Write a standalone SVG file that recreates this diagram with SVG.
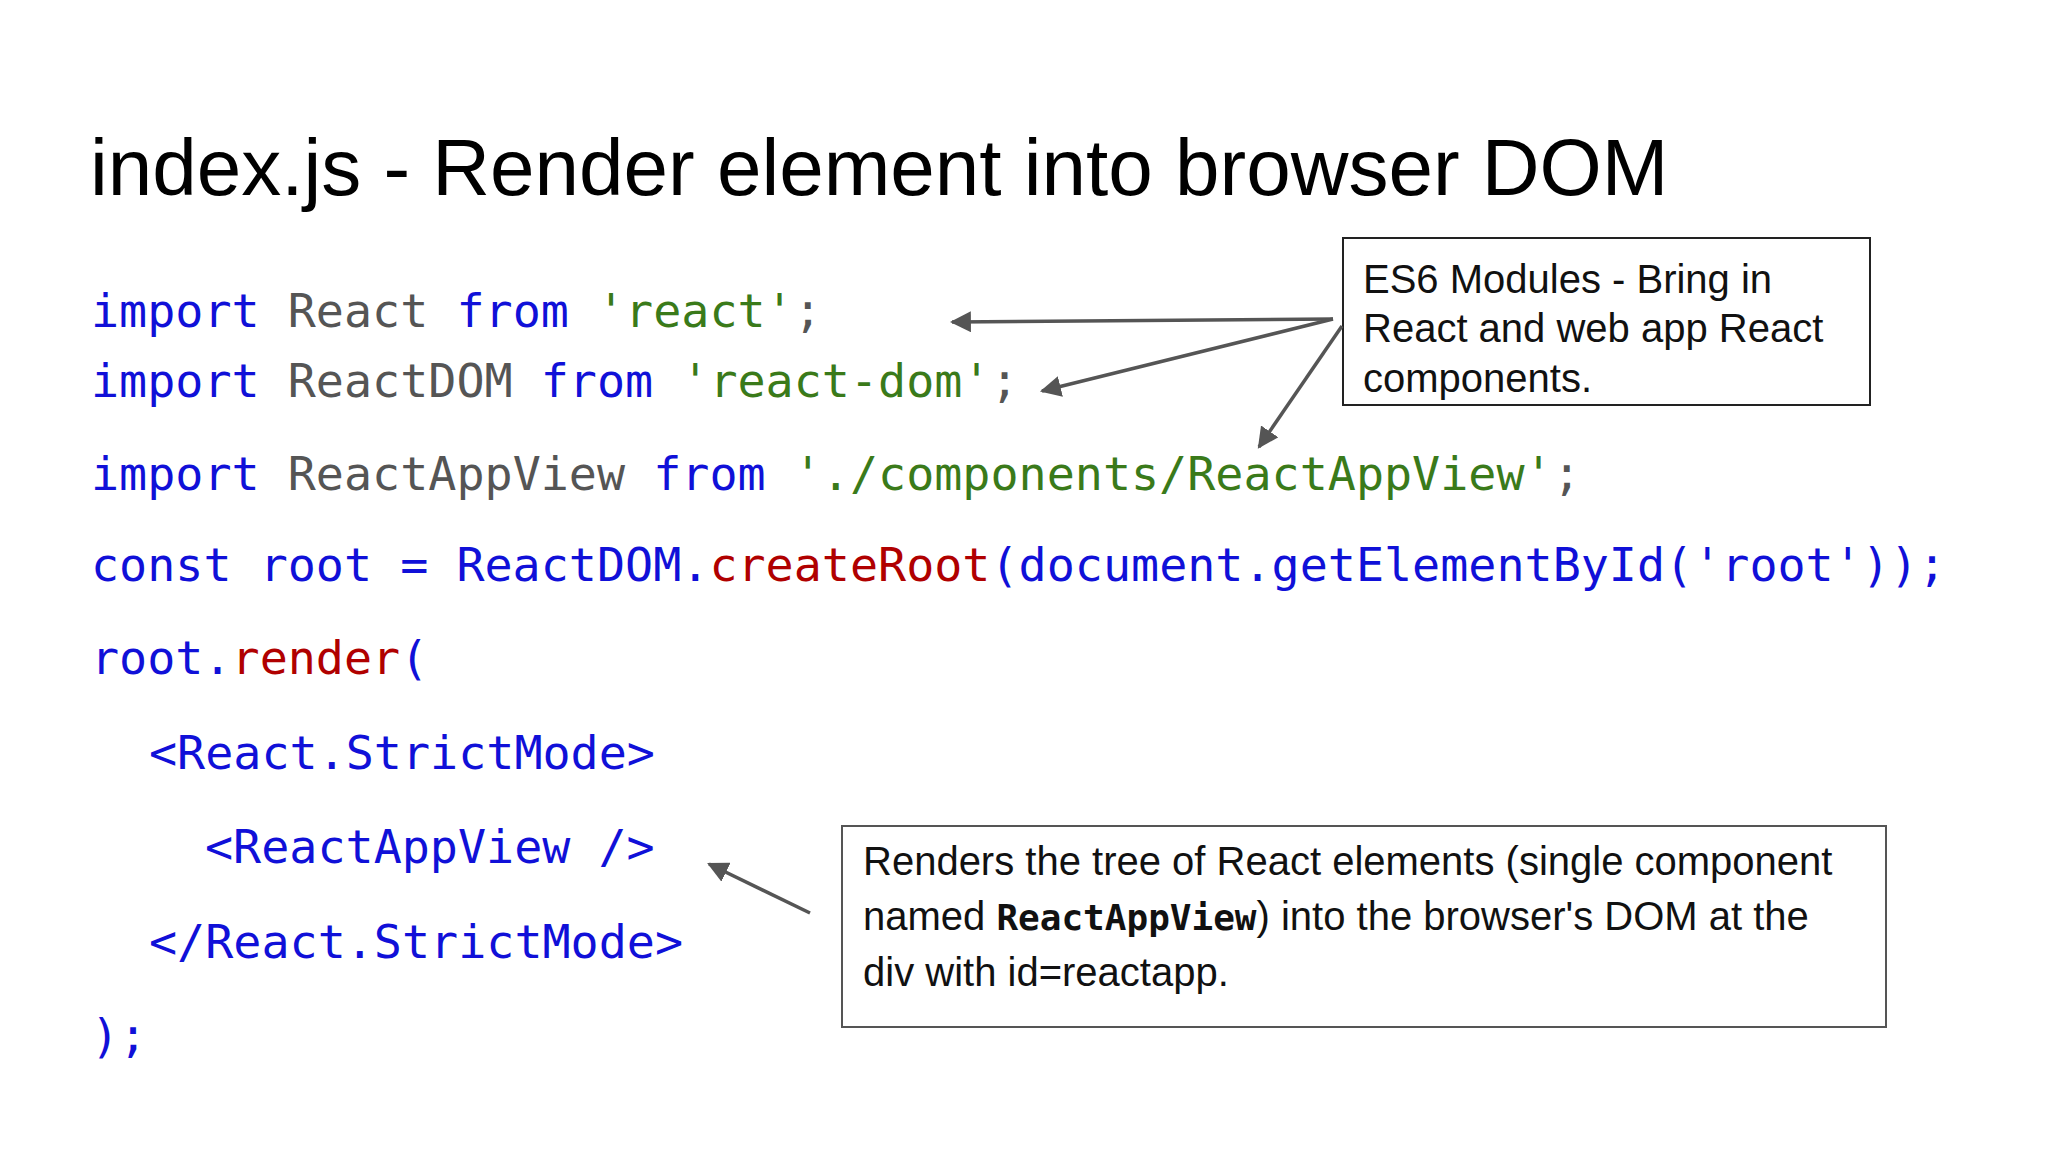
<svg xmlns="http://www.w3.org/2000/svg" width="2048" height="1152" viewBox="0 0 2048 1152">
<style>
.t{font-family:"Liberation Sans",Arial,sans-serif;fill:#000}
.c{font-family:"DejaVu Sans Mono",monospace;font-size:46.7px;white-space:pre}
.k{fill:#1010d8}.i{fill:#555}.s{fill:#3a7a1a}.r{fill:#b00000}
.box{fill:#fff;stroke:#222;stroke-width:2}
.n{font-family:"Liberation Sans",Arial,sans-serif;font-size:40px;fill:#111}
.conn line{stroke:#555;stroke-width:3.5;marker-end:url(#ah)}
</style>
<defs><marker id="ah" viewBox="0 0 10 10" refX="9" refY="5" markerWidth="6" markerHeight="6" orient="auto" markerUnits="strokeWidth"><path d="M0,0L10,5L0,10z" fill="#555"/></marker></defs>
<rect width="2048" height="1152" fill="#fff"/>
<text class="t" x="90" y="195" font-size="80">index.js - Render element into browser DOM</text>
<g id="code">
<text class="c" x="91" y="327"><tspan class="k">import</tspan><tspan class="i"> React </tspan><tspan class="k">from</tspan><tspan class="s"> 'react'</tspan><tspan class="i">;</tspan></text>
<text class="c" x="91" y="397"><tspan class="k">import</tspan><tspan class="i"> ReactDOM </tspan><tspan class="k">from</tspan><tspan class="s"> 'react-dom'</tspan><tspan class="i">;</tspan></text>
<text class="c" x="91" y="490"><tspan class="k">import</tspan><tspan class="i"> ReactAppView </tspan><tspan class="k">from</tspan><tspan class="s"> './components/ReactAppView'</tspan><tspan class="i">;</tspan></text>
<text class="c" x="91" y="581"><tspan class="k">const root = ReactDOM.</tspan><tspan class="r">createRoot</tspan><tspan class="k">(document.getElementById('root'));</tspan></text>
<text class="c" x="91" y="674"><tspan class="k">root.</tspan><tspan class="r">render</tspan><tspan class="k">(</tspan></text>
<text class="c k" x="149" y="769">&lt;React.StrictMode&gt;</text>
<text class="c k" x="205" y="863">&lt;ReactAppView /&gt;</text>
<text class="c k" x="149" y="958">&lt;/React.StrictMode&gt;</text>
<text class="c k" x="91" y="1052">);</text>
</g>
<g id="note1">
<rect class="box" x="1343" y="238" width="527" height="167"/>
<text class="n" x="1363" y="293">ES6 Modules - Bring in</text>
<text class="n" x="1363" y="342">React and web app React</text>
<text class="n" x="1363" y="392">components.</text>
</g>
<g id="note2">
<rect class="box" x="842" y="826" width="1044" height="201" style="stroke:#555"/>
<text class="n" x="863" y="875">Renders the tree of React elements (single component</text>
<text class="n" x="863" y="930">named <tspan font-family="DejaVu Sans Mono,monospace" font-weight="bold" font-size="36">ReactAppView</tspan>) into the browser's DOM at the</text>
<text class="n" x="863" y="986">div with id=reactapp.</text>
</g>
<g class="conn" id="connectors">
<line x1="1333" y1="319" x2="952" y2="322"/>
<line x1="1333" y1="319" x2="1042" y2="391"/>
<line x1="1342" y1="326" x2="1259" y2="447"/>
<line x1="810" y1="913" x2="709" y2="864"/>
</g>
</svg>
